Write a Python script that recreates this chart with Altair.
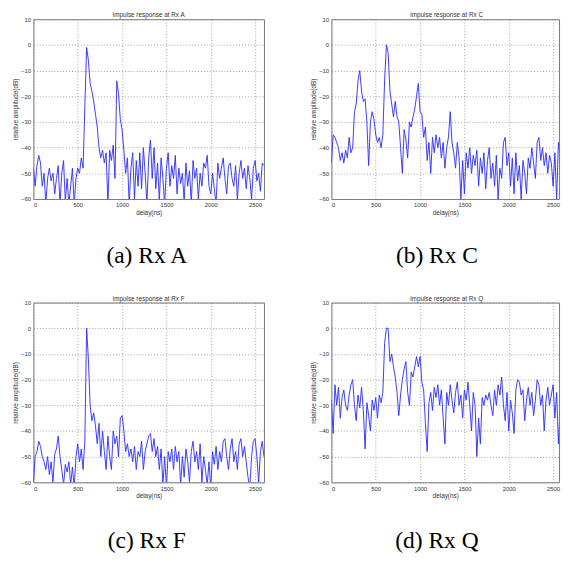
import altair as alt
import pandas as pd

delay = list(range(0, 2601, 20))

rx_a = [-48, -55, -47, -43, -46, -55, -50, -62, -52, -48,
        -53, -50, -58, -52, -47, -62, -50, -45, -61, -52,
        -62, -55, -48, -62, -52, -48, -50, -44, -48, -24,
        -1, -6, -15, -18, -22, -27, -32, -40, -44, -41,
        -46, -42, -62, -41, -45, -39, -52, -14, -19, -29,
        -33, -41, -50, -44, -62, -48, -42, -60, -45, -55,
        -42, -56, -40, -50, -62, -44, -37, -52, -40, -56,
        -46, -61, -44, -52, -62, -48, -42, -55, -47, -52,
        -43, -58, -48, -54, -50, -61, -46, -55, -49, -62,
        -45, -52, -48, -60, -50, -55, -46, -48, -43, -55,
        -58, -50, -56, -62, -46, -52, -48, -44, -52, -58,
        -47, -46, -52, -55, -47, -60, -50, -45, -52, -48,
        -56, -47, -52, -60, -48, -45, -53, -50, -57, -46,
        -47]

rx_c = [-46, -35, -36, -38, -40, -45, -42, -46, -41, -44,
        -36, -42, -40, -26, -23, -14, -10, -18, -22, -21,
        -30, -47, -30, -26, -29, -35, -38, -36, -40, -35,
        -14, 0, -3, -18, -23, -28, -22, -28, -30, -40,
        -50, -33, -37, -44, -30, -32, -28, -25, -20, -15,
        -26, -27, -36, -32, -45, -38, -50, -36, -42, -35,
        -40, -36, -44, -38, -48, -40, -36, -26, -38, -42,
        -48, -38, -44, -60, -45, -58, -42, -48, -40, -50,
        -43, -47, -41, -55, -44, -50, -42, -56, -45, -40,
        -52, -46, -55, -43, -60, -48, -52, -38, -36, -47,
        -42, -55, -44, -58, -42, -53, -47, -60, -45, -50,
        -58, -44, -48, -40, -46, -52, -38, -36, -45, -40,
        -47, -42, -50, -43, -46, -55, -42, -60, -38, -44,
        -40]

rx_f = [-60, -50, -48, -44, -46, -50, -52, -55, -50, -57,
        -52, -60, -49, -47, -42, -50, -55, -61, -53, -56,
        -52, -61, -54, -62, -50, -45, -52, -47, -55, -44,
        0, -12, -30, -36, -33, -38, -45, -37, -50, -40,
        -48, -55, -42, -50, -55, -40, -45, -42, -50, -35,
        -34, -40, -48, -45, -50, -47, -52, -46, -55, -48,
        -50, -44, -55, -48, -45, -42, -41, -48, -43, -50,
        -46, -55, -47, -61, -50, -62, -48, -52, -47, -55,
        -46, -52, -48, -61, -50, -58, -47, -52, -60, -48,
        -44, -52, -48, -55, -45, -60, -50, -55, -61, -52,
        -62, -48, -53, -46, -55, -48, -52, -44, -43, -50,
        -55, -47, -43, -52, -48, -55, -45, -43, -50, -46,
        -52, -58, -62, -50, -44, -43, -50, -60, -48, -44,
        -50]

rx_q = [-28, -41, -22, -30, -23, -35, -27, -24, -30, -32,
        -26, -22, -20, -30, -36, -26, -31, -23, -32, -47,
        -29, -34, -40, -28, -32, -27, -35, -26, -29, -25,
        -6, 0, 0, -13, -10, -15, -19, -25, -34, -26,
        -20, -16, -13, -25, -30, -17, -19, -15, -11, -15,
        -11, -21, -24, -37, -48, -29, -25, -32, -23, -27,
        -22, -30, -24, -35, -45, -25, -30, -22, -28, -33,
        -25, -21, -30, -26, -35, -24, -28, -21, -30, -40,
        -25, -30, -50, -35, -45, -27, -30, -26, -28, -25,
        -30, -34, -24, -30, -22, -26, -19, -30, -36, -25,
        -40, -28, -33, -41, -24, -20, -21, -26, -24, -36,
        -28, -23, -30, -25, -34, -28, -20, -22, -30, -26,
        -40, -28, -23, -30, -26, -22, -35, -25, -45, -30,
        -27]

titles = ["impulse response at Rx A", "impulse response at Rx C",
          "impulse response at Rx F", "impulse response at Rx Q"]
captions = ["(a) Rx A", "(b) Rx C", "(c) Rx F", "(d) Rx Q"]
x_ticks = [0, 500, 1000, 1500, 2000, 2500]
y_ticks = [-60, -50, -40, -30, -20, -10, 0, 10]

H = 184
W_LEFT = 236
W_RIGHT = 233          # right column is cut by the page edge in the original
X_MAX_LEFT = 2600
X_MAX_RIGHT = 2567


def panel(values, title, caption, width, xmax, cap_x, cap_y):
    df = pd.DataFrame({"delay": delay, "amp": values})
    line = alt.Chart(df).mark_line(color="#3030ff", strokeWidth=0.95, clip=True).encode(
        x=alt.X("delay:Q", scale=alt.Scale(domain=[0, xmax], nice=False),
                axis=alt.Axis(values=x_ticks, title="delay(ns)", format="d")),
        y=alt.Y("amp:Q", scale=alt.Scale(domain=[-60, 10], nice=False),
                axis=alt.Axis(values=y_ticks, title="relative amplitude(dB)", format="d")),
    )
    ttl = alt.Chart(alt.Data(values=[{"title": title}])).mark_text(
        font="Liberation Sans", fontSize=6.5, align="center", baseline="middle", color="#333"
    ).encode(text="title:N", x=alt.value(118), y=alt.value(-4))
    cap = alt.Chart(alt.Data(values=[{"caption": caption}])).mark_text(
        font="Liberation Serif", fontSize=24, align="center", baseline="middle", color="#000"
    ).encode(text="caption:N", x=alt.value(cap_x), y=alt.value(cap_y))
    return alt.layer(line, ttl, cap).properties(width=width, height=H)


pa = panel(rx_a, titles[0], captions[0], W_LEFT, X_MAX_LEFT, 116, H + 58)
pb = panel(rx_c, titles[1], captions[1], W_RIGHT, X_MAX_RIGHT, 108, H + 58)
pc = panel(rx_f, titles[2], captions[2], W_LEFT, X_MAX_LEFT, 116, H + 60)
pd_ = panel(rx_q, titles[3], captions[3], W_RIGHT, X_MAX_RIGHT, 108, H + 60)

chart = alt.vconcat(
    alt.hconcat(pa, pb, spacing=46),
    alt.hconcat(pc, pd_, spacing=46),
    spacing=27,
).properties(
    padding={"left": 4, "top": -3, "right": 0, "bottom": 0}
).configure_view(
    stroke="#777", strokeWidth=1
).configure_axis(
    labelFont="Liberation Sans", labelFontSize=6, labelColor="#333",
    titleFont="Liberation Sans", titleFontSize=6.5, titleFontWeight="normal", titleColor="#333",
    grid=True, gridColor="#888", gridDash=[1, 2], gridWidth=0.8, gridOpacity=1,
    domain=False, ticks=False, labelPadding=3, titlePadding=2,
)

chart.save("out.html", embed_options={"renderer": "svg", "actions": False})
